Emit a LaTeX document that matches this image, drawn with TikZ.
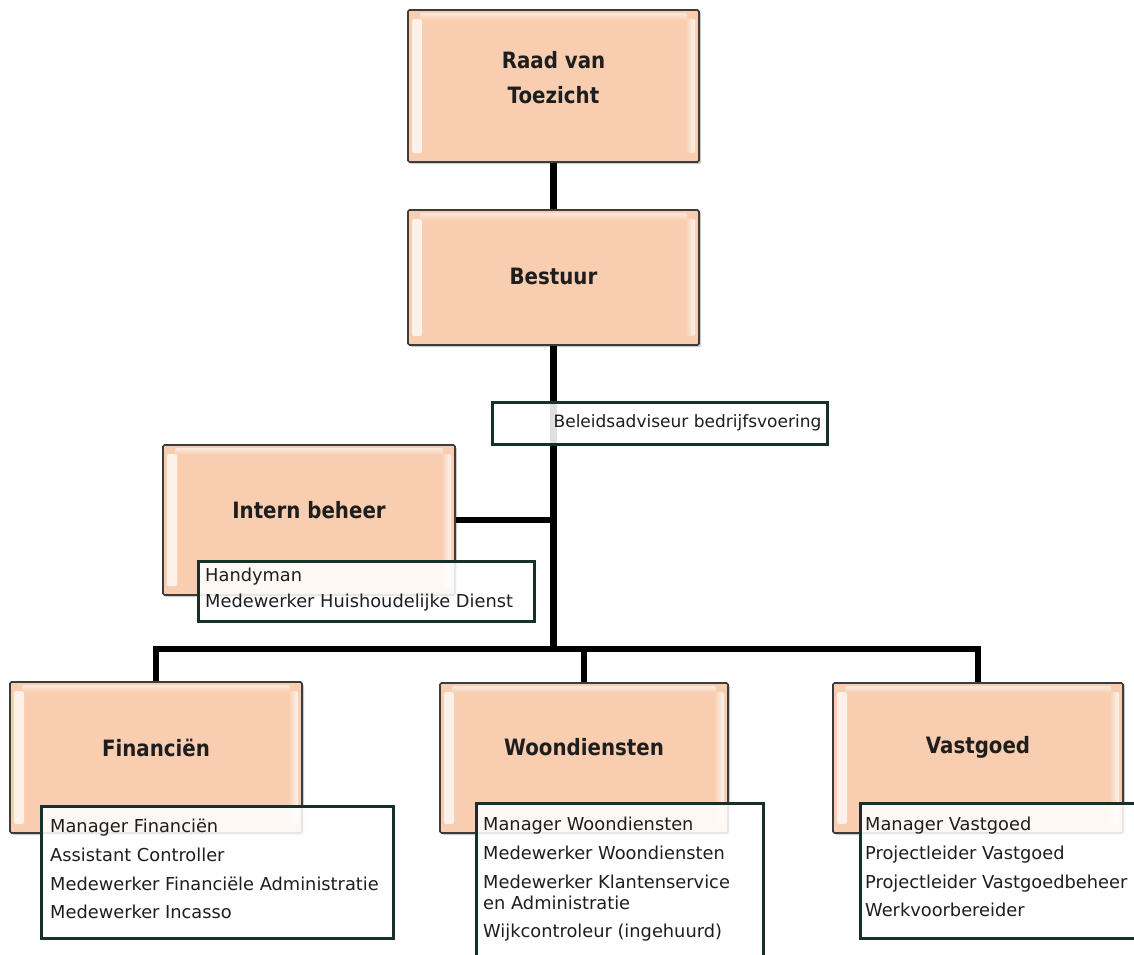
\documentclass[tikz,border=0pt]{standalone}
\usepackage{fontspec}
\setmainfont{DejaVu Sans}
\newfontfamily\titlefont[FakeStretch=0.88]{DejaVu Sans}
\usetikzlibrary{shadows,calc}
\definecolor{peach}{HTML}{F8CDB0}
\definecolor{boxline}{HTML}{3C3C3C}
\definecolor{listline}{HTML}{18302A}
\definecolor{txt}{HTML}{1E1E1E}
\pgfdeclarelayer{bg}
\pgfsetlayers{bg,main}
\begin{document}
\begin{tikzpicture}[x=1pt,y=-1pt,
  deptbox/.style={draw=boxline, line width=1.6pt, fill=peach, rounded corners=1.5pt, inner sep=0pt,
    drop shadow={shadow xshift=2pt,shadow yshift=-2pt,opacity=0.2,fill=black},
    path picture={
      \shade[left color=white!75!peach, right color=peach]
        ([xshift=4pt,yshift=-9pt]path picture bounding box.north west) rectangle
        ([xshift=14pt,yshift=9pt]path picture bounding box.south west);
      \shade[left color=peach, right color=white!80!peach]
        ([xshift=-14pt,yshift=-9pt]path picture bounding box.north east) rectangle
        ([xshift=-4pt,yshift=9pt]path picture bounding box.south east);
      \shade[top color=white!55!peach, bottom color=peach]
        ([xshift=12pt,yshift=-3pt]path picture bounding box.north west) rectangle
        ([xshift=-12pt,yshift=-10pt]path picture bounding box.north east);
    }},
  depttext/.style={font=\titlefont\bfseries\fontsize{22.5}{35}\selectfont, text=txt, align=center, inner sep=0pt},
  listbox/.style={draw=listline, line width=3pt, fill=white, fill opacity=0.88, draw opacity=1, inner sep=0pt},
  listtext/.style={font=\fontsize{17.8}{21}\selectfont, align=left, inner sep=0pt, anchor=north west, text=txt},
  conn/.style={line width=6.8pt, draw=black, line join=miter}
]
\useasboundingbox (0,0) rectangle (1134,954);

% department boxes
\node[deptbox, minimum width=291pt, minimum height=152pt] (rvt) at (553.5,86) {};
\node[depttext] (rvt-t) at ([yshift=8.5pt]rvt.center) {Raad van\\Toezicht};

\node[deptbox, minimum width=291pt, minimum height=135pt] (best) at (553.5,277.5) {};
\node[depttext] (best-t) at ([yshift=1.5pt]best.center) {Bestuur};

\node[deptbox, minimum width=292pt, minimum height=150pt] (ib) at (309,520) {};
\node[depttext] (ib-t) at ([yshift=10pt]ib.center) {Intern beheer};

\node[deptbox, minimum width=292pt, minimum height=151pt] (fin) at (156,757.5) {};
\node[depttext] (fin-t) at ([yshift=10pt]fin.center) {Financiën};

\node[deptbox, minimum width=288pt, minimum height=150pt] (woon) at (584,758) {};
\node[depttext] (woon-t) at ([yshift=11pt]woon.center) {Woondiensten};

\node[deptbox, minimum width=290pt, minimum height=150pt] (vast) at (978,758) {};
\node[depttext] (vast-t) at ([yshift=11pt]vast.center) {Vastgoed};

% staff box
\node[listbox, minimum width=335pt, minimum height=42pt] (bel) at (659.5,423) {};
\node[listtext, font=\fontsize{17}{21}\selectfont, anchor=east] (bel-t) at ([xshift=-7pt]bel.east) {Beleidsadviseur bedrijfsvoering};

% list boxes
\node[listbox, anchor=north west, minimum width=336pt, minimum height=60pt] (ibl) at (197,560) {};
\node[listtext] (ibl-t) at ([xshift=8pt,yshift=-8pt]ibl.north west)
  {Handyman\\[5pt]Medewerker Huishoudelijke Dienst};

\node[listbox, anchor=north west, minimum width=352pt, minimum height=132pt] (finl) at (40,805) {};
\node[listtext] (finl-t) at ([xshift=10pt,yshift=-14pt]finl.north west)
  {Manager Financiën\\[7.7pt]Assistant Controller\\[7.7pt]Medewerker Financiële Administratie\\[7.7pt]Medewerker Incasso};

\node[listbox, anchor=north west, minimum width=287pt, minimum height=175pt] (woonl) at (475,802) {};
\node[listtext] (woonl-t) at ([xshift=8pt,yshift=-15pt]woonl.north west)
  {Manager Woondiensten\\[7.7pt]Medewerker Woondiensten\\[7.7pt]Medewerker Klantenservice\\en Administratie\\[7.7pt]Wijkcontroleur (ingehuurd)};

\node[listbox, anchor=north west, minimum width=300pt, minimum height=135pt] (vastl) at (859,802) {};
\node[listtext] (vastl-t) at ([xshift=6pt,yshift=-15pt]vastl.north west)
  {Manager Vastgoed\\[7.7pt]Projectleider Vastgoed\\[7.7pt]Projectleider Vastgoedbeheer\\[7.7pt]Werkvoorbereider};

% connectors
\begin{pgfonlayer}{bg}
\coordinate (bar) at (553.5,649);
\draw[conn] (rvt.south) -- (best.north);
\draw[conn] (best.south) -- (bar);
\draw[conn] (fin.north) |- (bar) -| (vast.north);
\draw[conn] (bar -| woon.north) -- (woon.north);
\draw[conn] (ib.east) -- (ib.east -| best.south);
\end{pgfonlayer}
\end{tikzpicture}
\end{document}
